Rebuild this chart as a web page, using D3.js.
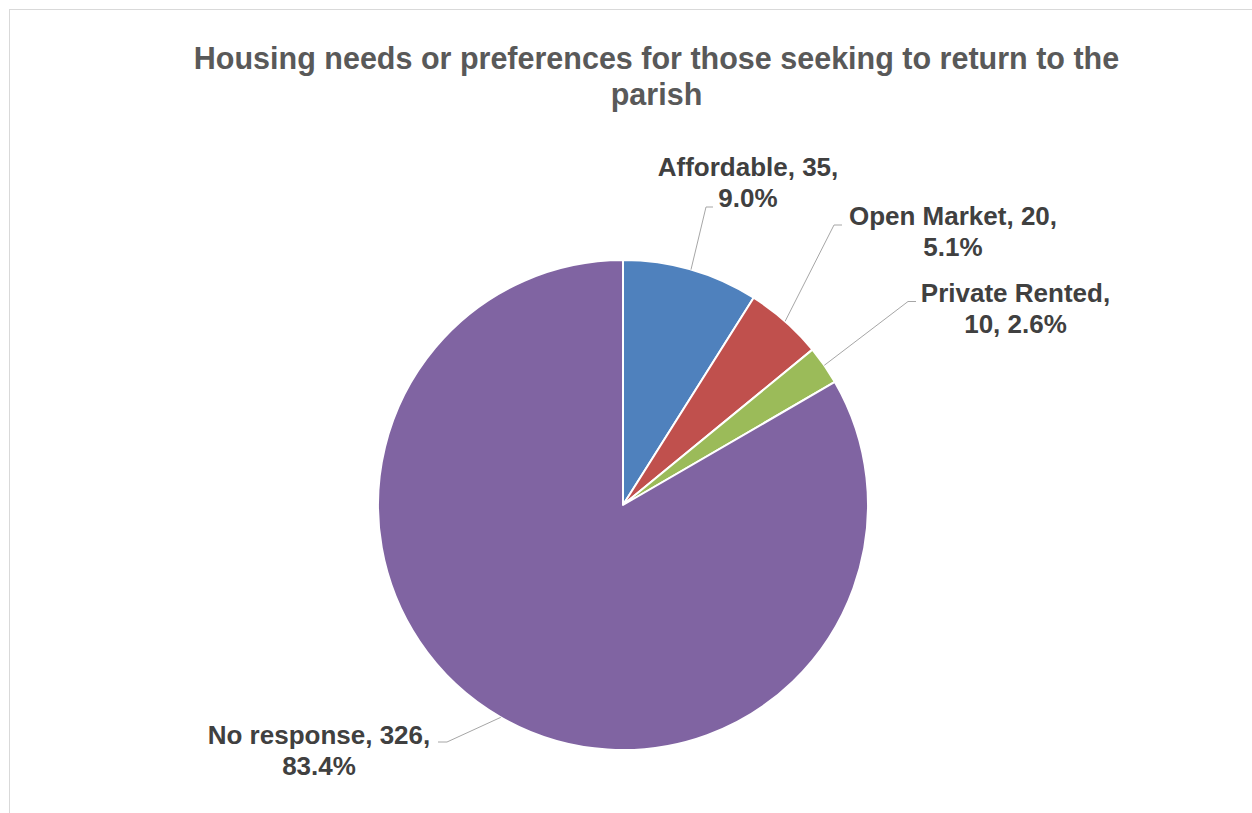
<!DOCTYPE html>
<html>
<head>
<meta charset="utf-8">
<script src="https://cdn.jsdelivr.net/npm/d3@7"></script>
<style>
  html, body { margin: 0; padding: 0; background: #fff; }
  svg { display: block; }
</style>
</head>
<body>
<svg id="chart" width="1252" height="813"></svg>
<script>
// ---- Data ----
const categories = ["Affordable", "Open Market", "Private Rented", "No response"];
const values = [35, 20, 10, 326];
const percentLabels = ["9.0%", "5.1%", "2.6%", "83.4%"];
const titleLines = ["Housing needs or preferences for those seeking to return to the", "parish"];

// ---- Styling / layout ----
const colors = ["#4F81BD", "#C0504D", "#9BBB59", "#8064A2"];
const labelLines = [
  ["Affordable, 35,", "9.0%"],
  ["Open Market, 20,", "5.1%"],
  ["Private Rented,", "10, 2.6%"],
  ["No response, 326,", "83.4%"]
];
// label layout: center x, first baseline y, leader elbow (ex, ey), leader end x
const labelLayout = [
  { cx: 748, y: 176, ex: 706, ey: 207, endX: 713 },
  { cx: 953, y: 225, ex: 834, ey: 225, endX: 842 },
  { cx: 1015.5, y: 301.5, ex: 908, ey: 301.5, endX: 916 },
  { cx: 319, y: 743.5, ex: 447, ey: 742, endX: 438 }
];

const svg = d3.select("#chart");

// Chart border
svg.append("rect")
  .attr("x", 9.5).attr("y", 9.5)
  .attr("width", 1300).attr("height", 900)
  .attr("fill", "#fff")
  .attr("stroke", "#d9d9d9")
  .attr("stroke-width", 1);

// Title
const title = svg.append("text")
  .attr("text-anchor", "middle")
  .attr("font-family", "'Liberation Sans', Arial, sans-serif")
  .attr("font-weight", "bold")
  .attr("font-size", 30.5)
  .attr("fill", "#595959");
titleLines.forEach((t, i) => {
  title.append("tspan").attr("x", 656.5).attr("y", 69 + i * 35.5).text(t);
});

// Pie
const cx = 623, cy = 505, R = 245;
const pie = d3.pie().sort(null).value(d => d.value).startAngle(0).endAngle(2 * Math.PI);
const data = categories.map((c, i) => ({ cat: c, value: values[i], i }));
const arcs = pie(data);
const arc = d3.arc().innerRadius(0).outerRadius(R);
const edgeArc = d3.arc().innerRadius(R).outerRadius(R);

const g = svg.append("g").attr("transform", `translate(${cx},${cy})`);
g.selectAll("path.slice")
  .data(arcs)
  .join("path")
  .attr("class", "slice")
  .attr("d", arc)
  .attr("fill", d => colors[d.data.i])
  .attr("stroke", "#fff")
  .attr("stroke-width", 2)
  .attr("stroke-linejoin", "round");

// Leader lines
arcs.forEach((d, i) => {
  const [sx, sy] = edgeArc.centroid(d);
  const L = labelLayout[i];
  svg.append("polyline")
    .attr("points", `${cx + sx},${cy + sy} ${L.ex},${L.ey} ${L.endX},${L.ey}`)
    .attr("fill", "none")
    .attr("stroke", "#a6a6a6")
    .attr("stroke-width", 1);
});

// Labels
arcs.forEach((d, i) => {
  const L = labelLayout[i];
  const t = svg.append("text")
    .attr("text-anchor", "middle")
    .attr("font-family", "'Liberation Sans', Arial, sans-serif")
    .attr("font-weight", "bold")
    .attr("font-size", 26)
    .attr("fill", "#404040");
  labelLines[i].forEach((line, k) => {
    t.append("tspan").attr("x", L.cx).attr("y", L.y + k * 31).text(line);
  });
});
</script>
</body>
</html>
